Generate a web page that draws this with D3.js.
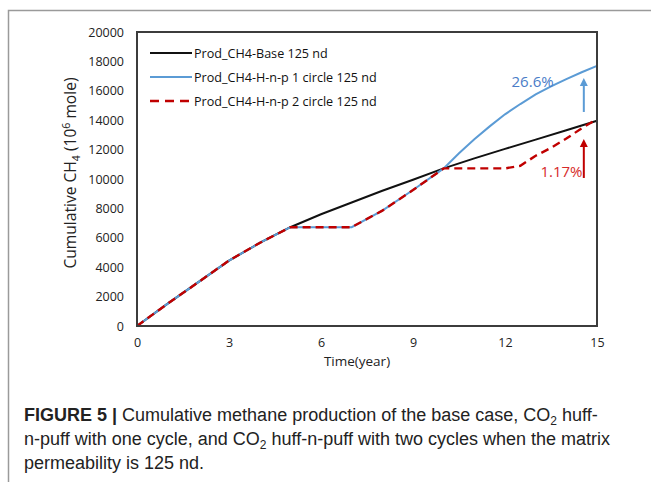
<!DOCTYPE html>
<html>
<head>
<meta charset="utf-8">
<script src="https://cdn.jsdelivr.net/npm/d3@7"></script>
<style>
  body { margin: 0; background: #fff; }
  svg { display: block; }
  .tick text { font-family: "Open Sans", sans-serif; font-size: 12.5px; fill: #222; }
  .legend-text { font-family: "Open Sans", sans-serif; font-size: 12.6px; fill: #111; }
  .caption { font-family: "Liberation Sans", sans-serif; font-size: 18px; fill: #222; }
</style>
</head>
<body>
<div id="chart"></div>
<script>
// Cumulative CH4 production, 125 nd

const WIDTH = 651
const HEIGHT = 482

const MARGIN = { top: 32, right: 54, bottom: 156, left: 137 }

// data
const years = [0, 1, 2, 3, 4, 5, 6, 7, 8, 9, 10, 11, 12, 13, 14, 15]
const baseCase = [0, 1520, 2980, 4450, 5650, 6720, 7600, 8400, 9200, 9950, 10720, 11400, 12050, 12680, 13320, 13960]
const oneCycleYears = [0, 1, 2, 3, 4, 5, 6, 7, 8, 9, 10, 10.5, 11, 11.5, 12, 12.5, 13, 13.5, 14, 14.5, 15]
const oneCycle = [0, 1520, 2980, 4450, 5650, 6720, 6720, 6720, 7850, 9250, 10720, 11750, 12700, 13580, 14400, 15100, 15750, 16300, 16800, 17260, 17700]
const twoCycleYears = [0, 1, 2, 3, 4, 5, 6, 7, 8, 9, 10, 11, 12, 12.5, 13, 13.5, 14, 14.5, 15]
const twoCycle = [0, 1520, 2980, 4450, 5650, 6720, 6720, 6720, 7850, 9250, 10720, 10720, 10720, 10900, 11580, 12120, 12750, 13450, 14080]

const xTicks = [0, 3, 6, 9, 12, 15]
const yTicks = [0, 2000, 4000, 6000, 8000, 10000, 12000, 14000, 16000, 18000, 20000]

const legendNames = ["Prod_CH4-Base 125 nd", "Prod_CH4-H-n-p 1 circle 125 nd", "Prod_CH4-H-n-p 2 circle 125 nd"]
const annotations = [{ text: "26.6%", x: 12.9, y: 16260 }, { text: "1.17%", x: 13.84, y: 10130 }]

const BLACK = "#111111"
const BLUE = "#5b9bd5"
const RED = "#c00000"

const svg = d3.select("#chart")
  .append("svg")
  .attr("width", WIDTH)
  .attr("height", HEIGHT)

// figure border (grey, top + left)
svg.append("path")
  .attr("d", `M8.5,${HEIGHT} V10.5 H${WIDTH}`)
  .attr("fill", "none")
  .attr("stroke", "#9a9a9a")
  .attr("stroke-width", 1.5)

const x = d3.scaleLinear()
  .domain([0, 15])
  .range([MARGIN.left, 597])

const y = d3.scaleLinear()
  .domain([0, 20000])
  .range([326, MARGIN.top])

// Ejes
const xAxis = d3.axisBottom(x).tickValues(xTicks).tickSize(0).tickPadding(12)
const yAxis = d3.axisLeft(y).tickValues(yTicks).tickSize(0).tickPadding(13)
  .tickFormat(d3.format("d"))

svg.append("g")
  .attr("transform", `translate(0, ${y(0)})`)
  .call(xAxis)
  .call(g => g.select(".domain").remove())

svg.append("g")
  .attr("transform", `translate(${x(0)}, 0)`)
  .call(yAxis)
  .call(g => g.select(".domain").remove())

// axis titles
svg.append("text")
  .attr("x", 357)
  .attr("y", 366)
  .attr("text-anchor", "middle")
  .style("font-family", "'Open Sans', sans-serif")
  .style("font-size", "13.5px")
  .style("fill", "#222")
  .text("Time(year)")

const yTitle = svg.append("text")
  .attr("transform", `translate(76, 173) rotate(-90)`)
  .attr("text-anchor", "middle")
  .style("font-family", "'Open Sans', sans-serif")
  .style("font-size", "15.6px")
  .style("fill", "#222")
yTitle.append("tspan").text("Cumulative CH")
yTitle.append("tspan").text("4").attr("font-size", "10.5px").attr("dy", 4)
yTitle.append("tspan").text(" (10").attr("dy", -4)
yTitle.append("tspan").text("6").attr("font-size", "10.5px").attr("dy", -6)
yTitle.append("tspan").text(" mole)").attr("dy", 6)

// Lineas
const line = d3.line()
  .x(d => x(d[0]))
  .y(d => y(d[1]))

const series = [
  { name: legendNames[0], pts: d3.zip(years, baseCase), color: BLACK, width: 2, dash: null },
  { name: legendNames[1], pts: d3.zip(oneCycleYears, oneCycle), color: BLUE, width: 2, dash: null },
  { name: legendNames[2], pts: d3.zip(twoCycleYears, twoCycle), color: RED, width: 2.4, dash: "8,5" }
]

svg.selectAll("path.series")
  .data(series)
  .join("path")
  .attr("class", "series")
  .attr("fill", "none")
  .attr("stroke", d => d.color)
  .attr("stroke-width", d => d.width)
  .attr("stroke-dasharray", d => d.dash)
  .attr("d", d => line(d.pts))

// plot frame
svg.append("rect")
  .attr("x", x(0))
  .attr("y", y(20000))
  .attr("width", x(15) - x(0))
  .attr("height", y(0) - y(20000))
  .attr("fill", "none")
  .attr("stroke", "#3c3c3c")
  .attr("stroke-width", 2)

// legend
const legend = svg.selectAll("g.legend")
  .data(series)
  .join("g")
  .attr("class", "legend")
  .attr("transform", (d, i) => `translate(150, ${53 + 24 * i})`)

legend.append("line")
  .attr("x1", 0)
  .attr("x2", 42)
  .attr("stroke", d => d.color)
  .attr("stroke-width", d => d.width)
  .attr("stroke-dasharray", d => d.dash ? "9,6" : null)

legend.append("text")
  .attr("class", "legend-text")
  .attr("x", 44)
  .attr("y", 4.5)
  .text(d => d.name)

// annotations
svg.append("text")
  .attr("x", x(annotations[0].x))
  .attr("y", y(annotations[0].y))
  .attr("text-anchor", "middle")
  .style("font-family", "'Open Sans', sans-serif")
  .style("font-size", "15px")
  .style("fill", "#4a7cc7")
  .text(annotations[0].text)

svg.append("text")
  .attr("x", x(annotations[1].x))
  .attr("y", y(annotations[1].y))
  .attr("text-anchor", "middle")
  .style("font-family", "'Open Sans', sans-serif")
  .style("font-size", "15px")
  .style("fill", "#d62a2a")
  .text(annotations[1].text)

function arrow(xv, y0, y1, color) {
  const px = x(xv)
  svg.append("line")
    .attr("x1", px).attr("x2", px)
    .attr("y1", y(y0)).attr("y2", y(y1) + 6)
    .attr("stroke", color)
    .attr("stroke-width", 2)
  svg.append("path")
    .attr("d", `M${px - 4},${y(y1) + 8} L${px},${y(y1)} L${px + 4},${y(y1) + 8} Z`)
    .attr("fill", color)
}
arrow(14.57, 14560, 16870, BLUE)
arrow(14.57, 10070, 12720, RED)

// caption
const capLines = [
  [["FIGURE 5 |", "b"], [" Cumulative methane production of the base case, CO", ""], ["2", "s"], [" huff-", ""]],
  [["n-puff with one cycle, and CO", ""], ["2", "s"], [" huff-n-puff with two cycles when the matrix", ""]],
  [["permeability is 125 nd.", ""]]
]
capLines.forEach((parts, i) => {
  const t = svg.append("text")
    .attr("class", "caption")
    .attr("x", 24)
    .attr("y", 421 + 24 * i)
  let sub = false
  parts.forEach(p => {
    const s = t.append("tspan").text(p[0])
    if (p[1] == "b") s.attr("font-weight", "bold")
    if (p[1] == "s") { s.attr("font-size", "12px").attr("dy", 4); sub = true }
    else if (sub) { s.attr("dy", -4); sub = false }
  })
})
</script>
</body>
</html>
